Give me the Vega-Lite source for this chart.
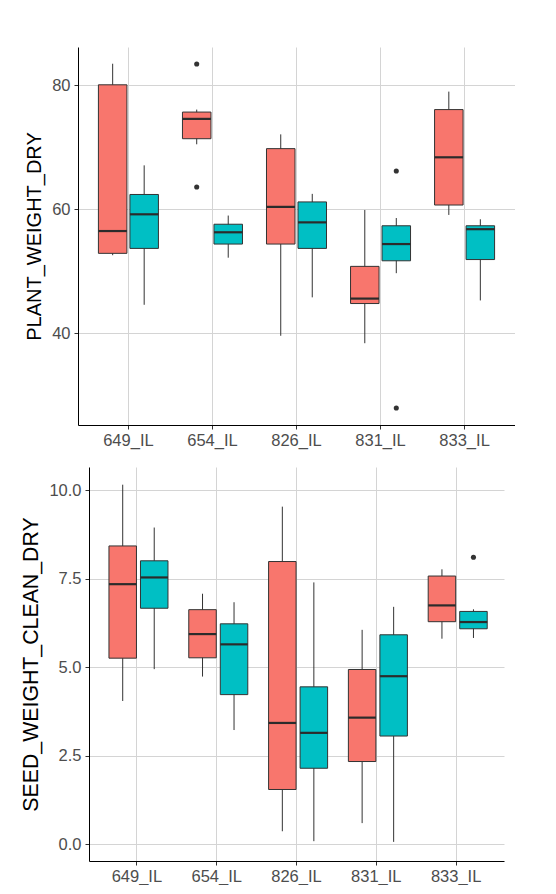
{
  "$schema": "https://vega.github.io/schema/vega-lite/v6.json",
  "background": "white",
  "padding": {"left": 20, "top": 47, "right": 0, "bottom": 0},
  "spacing": 18,
  "center": true,
  "config": {
    "view": {"stroke": null},
    "axis": {
      "domainColor": "black",
      "domainWidth": 1,
      "tickColor": "#333333",
      "tickSize": 4,
      "labelColor": "#4d4d4d",
      "labelFont": "Liberation Sans",
      "labelFontSize": 16.5,
      "titleFont": "Liberation Sans",
      "titleFontSize": 20,
      "titleFontWeight": "normal",
      "titleColor": "black",
      "gridColor": "#d4d4d4",
      "gridWidth": 1
    }
  },
  "datasets": {
    "plant": [
      {"group": "649_IL", "series": "A", "lower": 52.6, "q1": 52.9, "median": 56.5, "q3": 80.1, "upper": 83.5},
      {"group": "649_IL", "series": "B", "lower": 44.6, "q1": 53.7, "median": 59.2, "q3": 62.4, "upper": 67.1},
      {"group": "654_IL", "series": "A", "lower": 70.5, "q1": 71.4, "median": 74.6, "q3": 75.7, "upper": 76.1},
      {"group": "654_IL", "series": "B", "lower": 52.2, "q1": 54.4, "median": 56.3, "q3": 57.6, "upper": 59.0},
      {"group": "826_IL", "series": "A", "lower": 39.6, "q1": 54.4, "median": 60.4, "q3": 69.8, "upper": 72.1},
      {"group": "826_IL", "series": "B", "lower": 45.8, "q1": 53.7, "median": 57.9, "q3": 61.2, "upper": 62.5},
      {"group": "831_IL", "series": "A", "lower": 38.4, "q1": 44.8, "median": 45.6, "q3": 50.8, "upper": 59.9},
      {"group": "831_IL", "series": "B", "lower": 49.7, "q1": 51.7, "median": 54.4, "q3": 57.35, "upper": 58.6},
      {"group": "833_IL", "series": "A", "lower": 59.1, "q1": 60.7, "median": 68.4, "q3": 76.1, "upper": 79.0},
      {"group": "833_IL", "series": "B", "lower": 45.3, "q1": 51.9, "median": 56.8, "q3": 57.35, "upper": 58.4}
    ],
    "plant_out": [
      {"group": "654_IL", "series": "A", "value": 83.45},
      {"group": "654_IL", "series": "A", "value": 63.6},
      {"group": "831_IL", "series": "B", "value": 66.2},
      {"group": "831_IL", "series": "B", "value": 27.95}
    ],
    "seed": [
      {"group": "649_IL", "series": "A", "lower": 4.05, "q1": 5.26, "median": 7.35, "q3": 8.43, "upper": 10.16},
      {"group": "649_IL", "series": "B", "lower": 4.95, "q1": 6.67, "median": 7.54, "q3": 8.01, "upper": 8.95},
      {"group": "654_IL", "series": "A", "lower": 4.74, "q1": 5.27, "median": 5.94, "q3": 6.63, "upper": 7.08},
      {"group": "654_IL", "series": "B", "lower": 3.23, "q1": 4.23, "median": 5.65, "q3": 6.23, "upper": 6.84},
      {"group": "826_IL", "series": "A", "lower": 0.37, "q1": 1.55, "median": 3.43, "q3": 7.99, "upper": 9.54},
      {"group": "826_IL", "series": "B", "lower": 0.09, "q1": 2.15, "median": 3.15, "q3": 4.45, "upper": 7.40},
      {"group": "831_IL", "series": "A", "lower": 0.60, "q1": 2.34, "median": 3.58, "q3": 4.94, "upper": 6.06},
      {"group": "831_IL", "series": "B", "lower": 0.07, "q1": 3.06, "median": 4.75, "q3": 5.92, "upper": 6.71},
      {"group": "833_IL", "series": "A", "lower": 5.81, "q1": 6.29, "median": 6.75, "q3": 7.58, "upper": 7.77},
      {"group": "833_IL", "series": "B", "lower": 5.83, "q1": 6.09, "median": 6.28, "q3": 6.58, "upper": 6.64}
    ],
    "seed_out": [
      {"group": "833_IL", "series": "B", "value": 8.11}
    ]
  },
  "vconcat": [
    {
      "width": 437,
      "height": 378,
      "encoding": {
        "x": {
          "field": "group", "type": "nominal", "title": null,
          "scale": {"paddingInner": 0.25, "paddingOuter": 0.225},
          "axis": {"labelAngle": 0, "grid": true, "bandPosition": 0.5, "labelPadding": 3}
        },
        "xOffset": {"field": "series", "type": "nominal", "scale": {"paddingInner": 0, "paddingOuter": 0}},
        "color": {
          "field": "series", "type": "nominal", "legend": null,
          "scale": {"domain": ["A", "B"], "range": ["#F8766D", "#00BFC4"]}
        }
      },
      "layer": [
        {
          "data": {"name": "plant"},
          "mark": {"type": "rule", "color": "#333333", "strokeWidth": 1},
          "encoding": {
            "y": {
              "field": "lower", "type": "quantitative", "title": "PLANT_WEIGHT_DRY",
              "scale": {"domain": [25.2, 86.2], "nice": false, "zero": false},
              "axis": {"values": [40, 60, 80], "grid": true, "titlePadding": 7, "labelPadding": 4}
            },
            "y2": {"field": "upper"},
            "color": {"value": "#333333"}
          }
        },
        {
          "data": {"name": "plant"},
          "mark": {"type": "bar", "size": 28.5, "stroke": "#333333", "strokeWidth": 1},
          "encoding": {
            "y": {"field": "q1", "type": "quantitative"},
            "y2": {"field": "q3"}
          }
        },
        {
          "data": {"name": "plant"},
          "mark": {"type": "tick", "size": 28.5, "thickness": 2.2, "color": "#2b2b2b", "opacity": 1},
          "encoding": {
            "y": {"field": "median", "type": "quantitative"},
            "color": {"value": "#2b2b2b"}
          }
        },
        {
          "data": {"name": "plant_out"},
          "mark": {"type": "point", "filled": true, "size": 26, "color": "#333333", "opacity": 1},
          "encoding": {
            "y": {"field": "value", "type": "quantitative"},
            "color": {"value": "#333333"}
          }
        }
      ]
    },
    {
      "width": 415,
      "height": 394,
      "encoding": {
        "x": {
          "field": "group", "type": "nominal", "title": null,
          "scale": {"paddingInner": 0.25, "paddingOuter": 0.225},
          "axis": {"labelAngle": 0, "grid": true, "bandPosition": 0.5, "labelPadding": 3}
        },
        "xOffset": {"field": "series", "type": "nominal", "scale": {"paddingInner": 0, "paddingOuter": 0}},
        "color": {
          "field": "series", "type": "nominal", "legend": null,
          "scale": {"domain": ["A", "B"], "range": ["#F8766D", "#00BFC4"]}
        }
      },
      "layer": [
        {
          "data": {"name": "seed"},
          "mark": {"type": "rule", "color": "#333333", "strokeWidth": 1},
          "encoding": {
            "y": {
              "field": "lower", "type": "quantitative", "title": "SEED_WEIGHT_CLEAN_DRY",
              "scale": {"domain": [-0.47, 10.66], "nice": false, "zero": false},
              "axis": {"values": [0, 2.5, 5, 7.5, 10], "format": ".1f", "grid": true, "titlePadding": 7, "labelPadding": 4, "titleFontSize": 21.3}
            },
            "y2": {"field": "upper"},
            "color": {"value": "#333333"}
          }
        },
        {
          "data": {"name": "seed"},
          "mark": {"type": "bar", "size": 27.5, "stroke": "#333333", "strokeWidth": 1},
          "encoding": {
            "y": {"field": "q1", "type": "quantitative"},
            "y2": {"field": "q3"}
          }
        },
        {
          "data": {"name": "seed"},
          "mark": {"type": "tick", "size": 27.5, "thickness": 2.2, "color": "#2b2b2b", "opacity": 1},
          "encoding": {
            "y": {"field": "median", "type": "quantitative"},
            "color": {"value": "#2b2b2b"}
          }
        },
        {
          "data": {"name": "seed_out"},
          "mark": {"type": "point", "filled": true, "size": 26, "color": "#333333", "opacity": 1},
          "encoding": {
            "y": {"field": "value", "type": "quantitative"},
            "color": {"value": "#333333"}
          }
        }
      ]
    }
  ]
}
